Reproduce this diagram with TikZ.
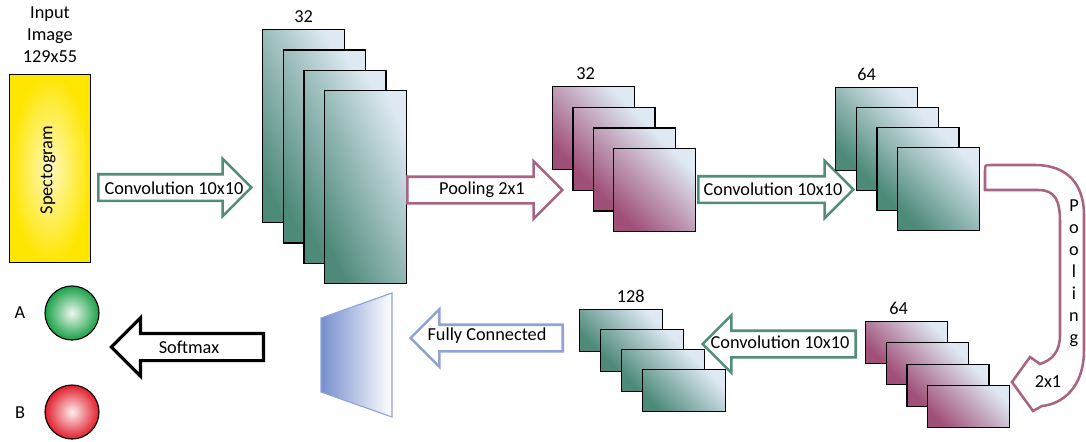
\documentclass[tikz,border=0pt]{standalone}
\usepackage{fontspec}
\setmainfont{Carlito}
\usetikzlibrary{shapes.arrows, shapes.geometric, positioning}

\definecolor{convdark}{RGB}{78,138,122}
\definecolor{pooldark}{RGB}{160,80,120}
\definecolor{maplight}{RGB}{222,233,243}
\definecolor{convline}{RGB}{82,140,122}
\definecolor{poolline}{RGB}{168,100,130}
\definecolor{fcline}{RGB}{143,163,214}
\definecolor{fcblue}{RGB}{118,142,204}
\definecolor{specyellow}{RGB}{255,230,0}
\definecolor{outgreen}{RGB}{25,160,70}
\definecolor{outred}{RGB}{225,30,42}

\begin{document}
\begin{tikzpicture}[
    x=0.025cm, y=-0.025cm,
    font=\fontsize{13}{15.6}\selectfont,
    node distance=1pt,
    convmap/.style = {draw, line width=0.8pt, inner sep=0pt, anchor=north west,
                left color=convdark, right color=maplight, shading angle=135},
    poolmap/.style = {convmap, left color=pooldark, right color=maplight,
                shading angle=135},
    blockarrow/.style = {shape=single arrow, draw, fill=white, line width=1.8pt,
                inner xsep=0pt, inner ysep=0.3cm,
                single arrow head extend=0.3875cm, anchor=tail},
    leftarrow/.style = {blockarrow, shape border rotate=180},
    outball/.style = {circle, draw, line width=0.8pt, minimum size=1.35cm}
                    ]
\useasboundingbox (0,0) rectangle (1086,441);

% input
\node (title) at (50,35) [align=center] {Input\\Image\\129x55};
\node (spec) at (9,74) [draw, line width=0.8pt, anchor=north west,
    minimum width=2.025cm, minimum height=4.7cm,
    inner color=specyellow!25!white, outer color=specyellow] {};
\node (spectxt) at (48,170) [rotate=90] {Spectogram};

% first convolution
\node (conv1) at (97,187.5) [blockarrow, draw=convline, minimum height=3.825cm] {};
\node (conv1txt) at (174,188) {Convolution 10x10};

\foreach \i in {0,...,3}
    \node (sA\i) at ({262+\i*20.7},{29+\i*20.4}) [convmap, shading angle=115,
        minimum width=2.05cm, minimum height=4.825cm] {};
\node[above=of sA0] (nA) {32};

% pooling
\node (pool1) at (406,190) [blockarrow, draw=poolline, minimum height=3.875cm] {};
\node (pool1txt) at (482,190) {Pooling 2x1};

\foreach \i in {0,...,3}
    \node (sB\i) at ({552+\i*20.4},{86+\i*20.7}) [poolmap,
        minimum width=2.05cm, minimum height=2.075cm] {};
\node[above=of sB0, xshift=-0.2cm] (nB) {32};

% second convolution
\node (conv2) at (697,189.5) [blockarrow, draw=convline, minimum height=3.875cm] {};
\node (conv2txt) at (773,189) {Convolution 10x10};

\foreach \i in {0,...,3}
    \node (sC\i) at ({835+\i*20.7},{87+\i*20}) [convmap,
        minimum width=2.05cm, minimum height=2.075cm] {};
\node[above=of sC0, xshift=-0.25cm] (nC) {64};

% curved pooling
\draw[poolline, line width=1.8pt, fill=white]
    (985,190) -- (985,171) .. controls (985,165) .. (991,165) -- (1035,165)
    .. controls (1068,165) and (1084,185) .. (1084,215) -- (1084,350)
    .. controls (1084,388) and (1062,404) .. (1042,406) -- (1033,411)
    -- (1012,382) -- (1030,357) -- (1040,364)
    .. controls (1052,360) and (1060,352) .. (1060,335) -- (1060,222)
    .. controls (1060,200) and (1055,190) .. (1038,190) -- cycle;
\node (pool2txt) at (1074,273) [align=center] {P\\o\\o\\l\\i\\n\\g};
\node (pool2size) at (1048,382) {2x1};

\foreach \i in {0,...,3}
    \node (sD\i) at ({865+\i*20.7},{321+\i*21.3}) [poolmap,
        minimum width=2.05cm, minimum height=1.05cm] {};
\node[above=of sD0, xshift=-0.2cm] (nD) {64};

% third convolution
\node (conv3) at (857,344) [leftarrow, draw=convline, minimum height=3.825cm] {};
\node (conv3txt) at (780,342) {Convolution 10x10};

\foreach \i in {0,...,3}
    \node (sE\i) at ({579+\i*21},{309+\i*20}) [convmap,
        minimum width=2.075cm, minimum height=1.05cm] {};
\node[above=of sE0, xshift=0.24cm] (nE) {128};

% fully connected
\node (fc) at (564,338) [leftarrow, draw=fcline, minimum height=3.8cm] {};
\node (fctxt) at (487,336) {Fully Connected};

\draw[fcline, line width=0.8pt, left color=fcblue, right color=white]
    (321,318) -- (392,293) -- (392,417) -- (321,392) -- cycle;

% softmax
\node (soft) at (265,347) [leftarrow, draw=black, line width=2.2pt, minimum height=3.8cm] {};
\node (softtxt) at (189,347) {Softmax};

\node (outA) at (72,313) [outball, inner color=outgreen!8!white, outer color=outgreen] {};
\node (outB) at (72,412) [outball, inner color=outred!8!white, outer color=outred] {};
\node (labA) at (20,313) {A};
\node (labB) at (20,413) {B};

\end{tikzpicture}
\end{document}
